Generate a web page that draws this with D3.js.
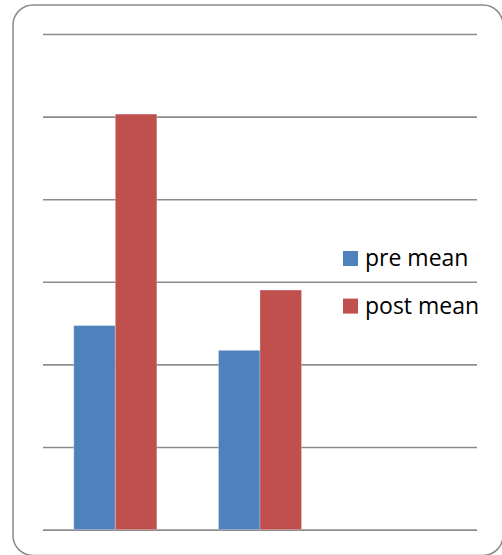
<!DOCTYPE html>
<html>
<head>
<meta charset="utf-8">
<script src="https://cdn.jsdelivr.net/npm/d3@7"></script>
<style>
  html, body { margin: 0; padding: 0; background: #fff; }
  svg { display: block; }
</style>
</head>
<body>
<svg id="chart" width="502" height="555"></svg>
<script>
// Chart data
const categories = ["Group 1", "Group 2", "Group 3"];
const seriesNames = ["pre mean", "post mean"];
const preMean = [2.47, 2.17];
const postMean = [5.03, 2.90];
const yTicks = [0, 1, 2, 3, 4, 5, 6];
const seriesColors = ["#4F81BD", "#C0504D"];

const svg = d3.select("#chart");

// Rounded outer frame (runs slightly past the right and bottom edges)
svg.append("rect")
  .attr("x", 13).attr("y", 5)
  .attr("width", 490).attr("height", 550.5)
  .attr("rx", 20).attr("ry", 20)
  .attr("fill", "#fff")
  .attr("stroke", "#8a8a8a")
  .attr("stroke-width", 1.5);

const plot = { left: 43, right: 477, top: 34, bottom: 529.6 };

const y = d3.scaleLinear()
  .domain([0, 6])
  .range([plot.bottom, plot.top]);

const x = d3.scaleBand()
  .domain(categories)
  .range([plot.left, plot.right])
  .paddingInner(0.426)
  .paddingOuter(0.213);

const xs = d3.scaleBand()
  .domain(seriesNames)
  .range([0, x.bandwidth()]);

// Horizontal gridlines
const grid = svg.append("g")
  .attr("transform", `translate(${plot.left},0)`)
  .call(d3.axisLeft(y)
    .tickValues(yTicks)
    .tickSize(-(plot.right - plot.left))
    .tickFormat(""));
grid.select(".domain").remove();
grid.selectAll(".tick line")
  .attr("stroke", "#8c8c8c")
  .attr("stroke-width", 1.6);

// Bars
const series = [
  { name: seriesNames[0], values: preMean, color: seriesColors[0] },
  { name: seriesNames[1], values: postMean, color: seriesColors[1] }
];

const rows = [];
series.forEach(s => {
  s.values.forEach((v, i) => rows.push({ cat: categories[i], name: s.name, value: v, color: s.color }));
});

svg.append("g")
  .selectAll("rect")
  .data(rows)
  .join("rect")
  .attr("x", d => x(d.cat) + xs(d.name))
  .attr("y", d => y(d.value))
  .attr("width", xs.bandwidth())
  .attr("height", d => y(0) - y(d.value))
  .attr("fill", d => d.color)
  .attr("stroke", "rgba(255,255,255,0.25)")
  .attr("stroke-width", 1);

// Legend
const legend = svg.append("g")
  .attr("transform", "translate(343,251)");

const items = legend.selectAll("g")
  .data(series)
  .join("g")
  .attr("transform", (d, i) => `translate(0,${i * 47.6})`);

items.append("rect")
  .attr("width", 15).attr("height", 15)
  .attr("fill", d => d.color);

items.append("text")
  .attr("x", 22)
  .attr("y", 15)
  .attr("font-family", "'Open Sans', sans-serif")
  .attr("font-size", 23)
  .attr("fill", "#000")
  .text(d => d.name);
</script>
</body>
</html>
